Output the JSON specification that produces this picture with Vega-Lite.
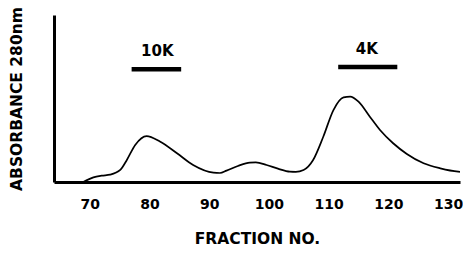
{
  "$schema": "https://vega.github.io/schema/vega-lite/v6.json",
  "autosize": {"type": "none"},
  "width": 406,
  "height": 167,
  "padding": {"left": 54, "top": 15, "right": 3, "bottom": 75},
  "background": "white",
  "config": {"view": {"stroke": null}},
  "layer": [
    {
      "data": {"values": [
        {"f": 68.9, "a": 0}, {"f": 70.6, "a": 0.028}, {"f": 72, "a": 0.038}, {"f": 73.4, "a": 0.044},
        {"f": 75.1, "a": 0.072}, {"f": 76.2, "a": 0.132}, {"f": 77.6, "a": 0.222}, {"f": 79.5, "a": 0.275},
        {"f": 81.8, "a": 0.241}, {"f": 84.6, "a": 0.172}, {"f": 87.3, "a": 0.102}, {"f": 90.7, "a": 0.056},
        {"f": 91.8, "a": 0.054}, {"f": 92.9, "a": 0.068}, {"f": 94.8, "a": 0.096}, {"f": 96.8, "a": 0.116},
        {"f": 97.8, "a": 0.117}, {"f": 99.6, "a": 0.102}, {"f": 101.5, "a": 0.08}, {"f": 103.5, "a": 0.062},
        {"f": 104.5, "a": 0.061}, {"f": 105.8, "a": 0.072}, {"f": 107.4, "a": 0.132}, {"f": 109.1, "a": 0.271},
        {"f": 110.8, "a": 0.431}, {"f": 112.5, "a": 0.507}, {"f": 113.6, "a": 0.511}, {"f": 115, "a": 0.481},
        {"f": 116.9, "a": 0.391}, {"f": 118.6, "a": 0.311}, {"f": 120.8, "a": 0.232}, {"f": 123.1, "a": 0.168},
        {"f": 125.9, "a": 0.112}, {"f": 128.7, "a": 0.082}, {"f": 131.7, "a": 0.062}, {"f": 132, "a": 0.061}
      ]},
      "mark": {"type": "line", "color": "black", "strokeWidth": 1.7, "interpolate": "monotone", "clip": true},
      "encoding": {
        "x": {"field": "f", "type": "quantitative",
          "scale": {"domain": [64, 132], "nice": false, "zero": false},
          "axis": {"values": [70, 80, 90, 100, 110, 120, 130], "title": "FRACTION NO.",
            "grid": false, "ticks": false, "domainColor": "black", "domainWidth": 3,
            "labelFont": "DejaVu Sans", "labelFontWeight": "bold", "labelFontSize": 14, "labelColor": "black",
            "labelPadding": 15, "labelFlush": false,
            "titleFont": "DejaVu Sans", "titleFontWeight": "bold", "titleFontSize": 15.5, "titleColor": "black",
            "titlePadding": 20}},
        "y": {"field": "a", "type": "quantitative",
          "scale": {"domain": [0, 1], "nice": false},
          "axis": {"title": "ABSORBANCE 280nm", "labels": false, "ticks": false, "grid": false,
            "domainColor": "black", "domainWidth": 3,
            "titleFont": "DejaVu Sans", "titleFontWeight": "bold", "titleFontSize": 15.5, "titleColor": "black",
            "titlePadding": 30}}
      }
    },
    {
      "data": {"values": [
        {"label": "10K", "start": 77, "end": 85.3, "level": 0.675, "mid": 81.3},
        {"label": "4K", "start": 111.6, "end": 121.5, "level": 0.689, "mid": 116.4}
      ]},
      "layer": [
        {
          "mark": {"type": "rule", "color": "black", "strokeWidth": 4.5},
          "encoding": {
            "x": {"field": "start", "type": "quantitative"},
            "x2": {"field": "end"},
            "y": {"field": "level", "type": "quantitative"}
          }
        },
        {
          "mark": {"type": "text", "font": "DejaVu Sans", "fontWeight": "bold", "fontSize": 15, "color": "black", "baseline": "alphabetic", "dy": -13},
          "encoding": {
            "x": {"field": "mid", "type": "quantitative"},
            "y": {"field": "level", "type": "quantitative"},
            "text": {"field": "label"}
          }
        }
      ]
    }
  ]
}
